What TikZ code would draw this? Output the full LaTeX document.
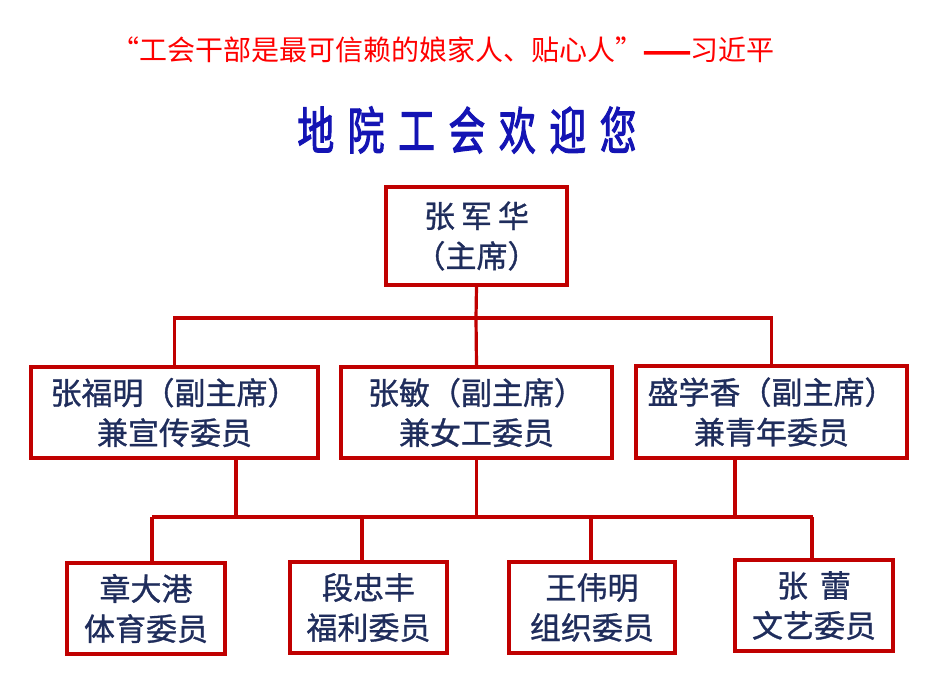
\documentclass[tikz,border=0pt]{standalone}
\usepackage{fontspec}
\newfontfamily\cjk{Noto Sans CJK SC}
\newfontfamily\cjkmid[FakeBold=1]{Noto Sans CJK SC}
\newfontfamily\cjkbold[FakeBold=2.5]{Noto Sans CJK SC}
\newfontfamily\cjkheavy[FakeBold=6]{Noto Sans CJK SC}
\definecolor{navy}{HTML}{1F2D5C}
\definecolor{linered}{HTML}{C00000}
\definecolor{titleblue}{HTML}{1414B4}
\definecolor{quotered}{HTML}{FF0000}
\newcommand{\boxfont}{\cjkmid\fontsize{31}{40}\selectfont}
\begin{document}
\begin{tikzpicture}[x=1pt,y=-1pt,
  box/.style={draw=linered,line width=3.2pt,align=center,text=navy,font=\boxfont,inner sep=0pt},
  wire/.style={draw=linered,line width=3.2pt}]
\useasboundingbox[fill=white] (0,0) rectangle (930,683);
% headings
\node[text=quotered,font=\cjk\fontsize{28}{30}\selectfont] (quote) at (443,50)
  {“工会干部是最可信赖的娘家人、贴心人”{\cjkheavy ——}习近平};
\node[text=titleblue,inner sep=0pt] (title) at (467,130)
  {\scalebox{0.8}[1.1]{\cjkbold\fontsize{46}{50}\selectfont 地\kern17pt 院\kern17pt 工\kern17pt 会\kern17pt 欢\kern17pt 迎\kern17pt 您}};
% boxes
\node[box,minimum width=181pt,minimum height=98pt] (chair) at (476.5,236)
  {张\kern6pt 军\kern6pt 华\\（主席）};
\node[box,minimum width=287pt,minimum height=91pt] (v1) at (174.5,412.5)
  {张福明（副主席）\\兼宣传委员};
\node[box,minimum width=271pt,minimum height=91pt] (v2) at (476.5,412.5)
  {张敏（副主席）\\兼女工委员};
\node[box,minimum width=271pt,minimum height=92pt] (v3) at (771.5,412)
  {盛学香（副主席）\\兼青年委员};
\node[box,minimum width=158pt,minimum height=91pt] (c1) at (146,608.5)
  {章大港\\体育委员};
\node[box,minimum width=157pt,minimum height=91pt] (c2) at (368.5,607.5)
  {段忠丰\\福利委员};
\node[box,minimum width=166pt,minimum height=91pt] (c3) at (592,607.5)
  {王伟明\\组织委员};
\node[box,minimum width=158pt,minimum height=91pt] (c4) at (814,605.5)
  {张\hspace{12pt}蕾\\文艺委员};
% connectors level 1
\coordinate (b1) at (476,318);
\draw[wire] (chair.south) -- (b1);
\draw[wire] (v1.north) |- (b1) -| (v3.north);
\draw[wire] (b1) -- (v2.north);
% connectors level 2
\coordinate (bL) at (152,517);
\coordinate (bR) at (813,517);
\draw[wire] (bL) -- (bR);
\draw[wire] ([xshift=61.5pt]v1.south) -- ([xshift=61.5pt]v1.south |- bL);
\draw[wire] (v2.south) -- (v2.south |- bL);
\draw[wire] ([xshift=-36.5pt]v3.south) -- ([xshift=-36.5pt]v3.south |- bL);
\draw[wire] (bL) -- (bL |- c1.north);
\draw[wire] ([xshift=-6.5pt]c2.north) -- ([xshift=-6.5pt]c2.north |- bL);
\draw[wire] ([xshift=-1pt]c3.north) -- ([xshift=-1pt]c3.north |- bL);
\draw[wire] ([xshift=-2pt]c4.north) -- ([xshift=-2pt]c4.north |- bL);
\end{tikzpicture}
\end{document}
